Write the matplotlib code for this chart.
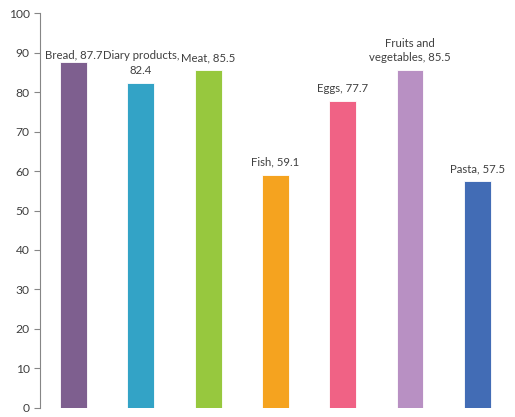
import matplotlib
matplotlib.use("Agg")
import matplotlib.pyplot as plt
import numpy as np

categories = ['Bread', 'Diary products', 'Meat', 'Fish', 'Eggs', 'Fruits and vegetables', 'Pasta']
labels = ['Bread, 87.7', 'Diary products,\n82.4', 'Meat, 85.5', 'Fish, 59.1', 'Eggs, 77.7',
          'Fruits and\nvegetables, 85.5', 'Pasta, 57.5']
values = [87.7, 82.4, 85.5, 59.1, 77.7, 85.5, 57.5]
colors = ['#7E5F8F', '#33A3C6', '#97C83E', '#F5A31F', '#F06285', '#B890C3', '#426CB5']

plt.rcParams['font.family'] = ['Lato', 'DejaVu Sans']

fig = plt.figure(figsize=(5.15, 4.17), dpi=100)
ax = fig.add_axes([0.0777, 0.0216, 0.9143, 0.9472])

x = np.arange(len(values))
bars = ax.bar(x, values, width=0.4, color=colors, edgecolor='white', linewidth=0.6)

for i, (b, lab) in enumerate(zip(bars, labels)):
    # the first label sits lower, close to its bar, like in the original
    dy = 1 if i == 0 else 5
    ax.annotate(lab, (b.get_x() + b.get_width() / 2, b.get_height()),
                xytext=(0, dy), textcoords='offset points',
                ha='center', va='bottom', multialignment='center',
                fontsize=8.2, color='#404040', linespacing=1.4)

ax.set_xlim(-0.5, 6.5)
ax.set_ylim(0, 100)
ax.set_yticks(range(0, 101, 10))
ax.set_xticks([])
for s in ['top', 'right', 'bottom']:
    ax.spines[s].set_visible(False)
ax.spines['left'].set_color('#868686')
ax.tick_params(axis='y', colors='#868686', labelcolor='#404040', labelsize=8.7, length=4)

fig.savefig('out.png', dpi=100)
